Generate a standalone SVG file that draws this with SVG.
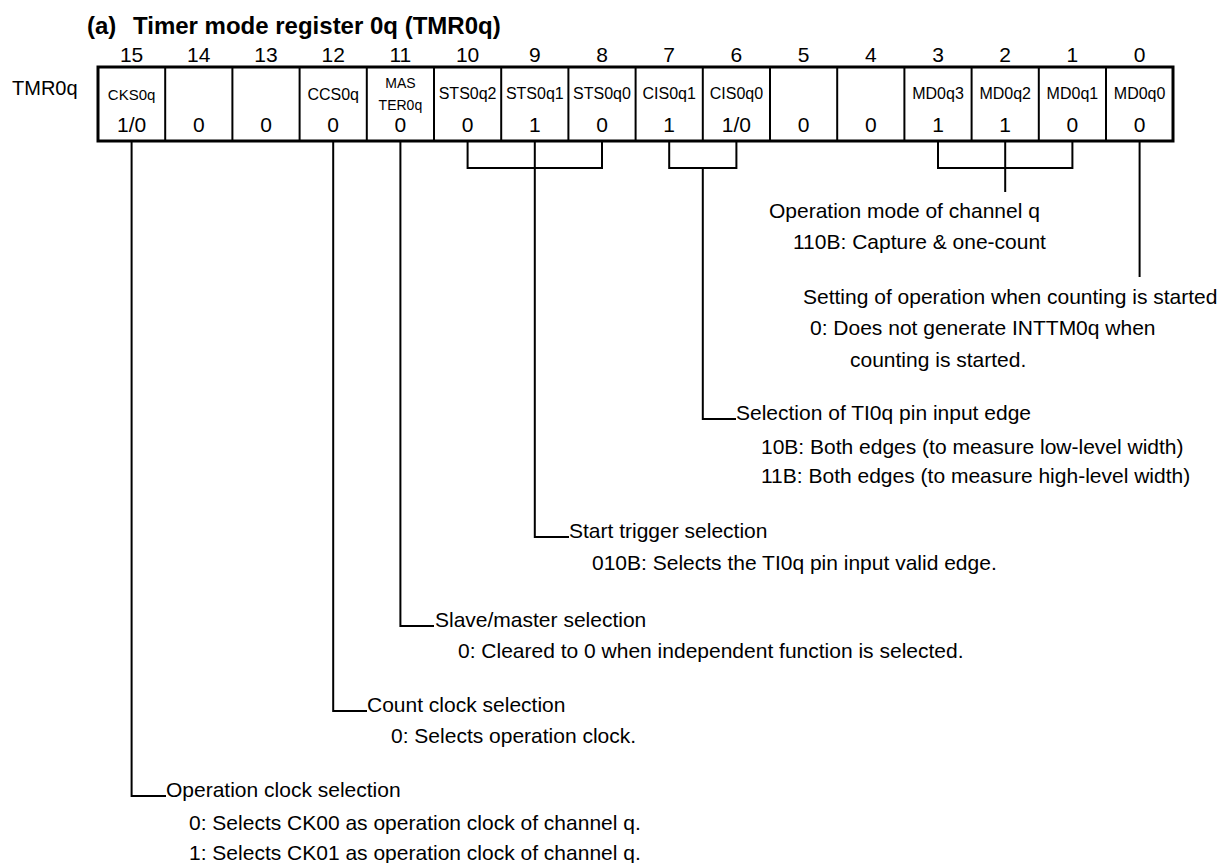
<svg xmlns="http://www.w3.org/2000/svg" width="1227" height="863" viewBox="0 0 1227 863">
<style>
text{font-family:"Liberation Sans",Arial,sans-serif;fill:#000}
.t{font-size:21px}
.bit{font-size:21px;text-anchor:middle}
.fld{font-size:16px;text-anchor:middle}
.sm{font-size:14px;text-anchor:middle}
.val{font-size:21px;text-anchor:middle}
.title{font-size:24px;font-weight:bold}
.ln{fill:none;stroke:#000;stroke-width:2}
.div{stroke:#000;stroke-width:2}
</style>
<rect width="1227" height="863" fill="#fff"/>
<text class="title" x="87" y="34">(a)<tspan x="133">Timer mode register 0q (TMR0q)</tspan></text>
<g id="bitnums">
<text class="bit" x="131.6" y="62">15</text>
<text class="bit" x="198.8" y="62">14</text>
<text class="bit" x="266" y="62">13</text>
<text class="bit" x="333.2" y="62">12</text>
<text class="bit" x="400.4" y="62">11</text>
<text class="bit" x="467.6" y="62">10</text>
<text class="bit" x="534.8" y="62">9</text>
<text class="bit" x="602" y="62">8</text>
<text class="bit" x="669.2" y="62">7</text>
<text class="bit" x="736.4" y="62">6</text>
<text class="bit" x="803.6" y="62">5</text>
<text class="bit" x="870.8" y="62">4</text>
<text class="bit" x="938" y="62">3</text>
<text class="bit" x="1005.2" y="62">2</text>
<text class="bit" x="1072.4" y="62">1</text>
<text class="bit" x="1139.6" y="62">0</text>
</g>
<g id="register">
<text x="12" y="95" style="font-size:20px">TMR0q</text>
<rect x="98" y="67" width="1075" height="74" fill="none" stroke="#000" stroke-width="3"/>
<line class="div" x1="165.2" y1="67" x2="165.2" y2="141"/>
<line class="div" x1="232.4" y1="67" x2="232.4" y2="141"/>
<line class="div" x1="299.6" y1="67" x2="299.6" y2="141"/>
<line class="div" x1="366.8" y1="67" x2="366.8" y2="141"/>
<line class="div" x1="434" y1="67" x2="434" y2="141"/>
<line class="div" x1="501.2" y1="67" x2="501.2" y2="141"/>
<line class="div" x1="568.4" y1="67" x2="568.4" y2="141"/>
<line class="div" x1="635.6" y1="67" x2="635.6" y2="141"/>
<line class="div" x1="702.8" y1="67" x2="702.8" y2="141"/>
<line class="div" x1="770" y1="67" x2="770" y2="141"/>
<line class="div" x1="837.2" y1="67" x2="837.2" y2="141"/>
<line class="div" x1="904.4" y1="67" x2="904.4" y2="141"/>
<line class="div" x1="971.6" y1="67" x2="971.6" y2="141"/>
<line class="div" x1="1038.8" y1="67" x2="1038.8" y2="141"/>
<line class="div" x1="1106" y1="67" x2="1106" y2="141"/>
<text class="fld" x="131.6" y="100" style="font-size:15px">CKS0q</text>
<text class="fld" x="333.2" y="100">CCS0q</text>
<text class="sm" x="400.4" y="88">MAS</text>
<text class="sm" x="400.4" y="110">TER0q</text>
<text class="fld" x="467.6" y="99">STS0q2</text>
<text class="fld" x="534.8" y="99">STS0q1</text>
<text class="fld" x="602" y="99">STS0q0</text>
<text class="fld" x="669.2" y="99">CIS0q1</text>
<text class="fld" x="736.4" y="99">CIS0q0</text>
<text class="fld" x="938" y="99">MD0q3</text>
<text class="fld" x="1005.2" y="99">MD0q2</text>
<text class="fld" x="1072.4" y="99">MD0q1</text>
<text class="fld" x="1139.6" y="99">MD0q0</text>
<text class="val" x="131.6" y="132">1/0</text>
<text class="val" x="198.8" y="132">0</text>
<text class="val" x="266" y="132">0</text>
<text class="val" x="333.2" y="132">0</text>
<text class="val" x="400.4" y="132">0</text>
<text class="val" x="467.6" y="132">0</text>
<text class="val" x="534.8" y="132">1</text>
<text class="val" x="602" y="132">0</text>
<text class="val" x="669.2" y="132">1</text>
<text class="val" x="736.4" y="132">1/0</text>
<text class="val" x="803.6" y="132">0</text>
<text class="val" x="870.8" y="132">0</text>
<text class="val" x="938" y="132">1</text>
<text class="val" x="1005.2" y="132">1</text>
<text class="val" x="1072.4" y="132">0</text>
<text class="val" x="1139.6" y="132">0</text>
</g>
<g id="connectors">
<path class="ln" d="M131.6 141 V796 H166"/>
<path class="ln" d="M333.2 141 V711 H367"/>
<path class="ln" d="M400.4 141 V626 H434"/>
<path class="ln" d="M467.6 141 V168 H602 V141"/>
<path class="ln" d="M534.8 141 V537 H569"/>
<path class="ln" d="M669.2 141 V168 H736.4 V141"/>
<path class="ln" d="M702.8 168 V419 H736"/>
<path class="ln" d="M938 141 V168 H1072.4 V141"/>
<path class="ln" d="M1005.2 141 V192"/>
<path class="ln" d="M1139.6 141 V277"/>
</g>
<g id="md">
<text class="t" x="769" y="218">Operation mode of channel q</text>
<text class="t" x="793" y="249">110B: Capture &amp; one-count</text>
</g>
<g id="md0">
<text class="t" x="803" y="304">Setting of operation when counting is started</text>
<text class="t" x="810" y="335">0: Does not generate INTTM0q when</text>
<text class="t" x="850" y="367">counting is started.</text>
</g>
<g id="cis">
<text class="t" x="736" y="420">Selection of TI0q pin input edge</text>
<text class="t" x="761" y="454">10B: Both edges (to measure low-level width)</text>
<text class="t" x="761" y="483">11B: Both edges (to measure high-level width)</text>
</g>
<g id="sts">
<text class="t" x="569" y="538">Start trigger selection</text>
<text class="t" x="592" y="570">010B: Selects the TI0q pin input valid edge.</text>
</g>
<g id="master">
<text class="t" x="435" y="627">Slave/master selection</text>
<text class="t" x="458" y="658">0: Cleared to 0 when independent function is selected.</text>
</g>
<g id="ccs">
<text class="t" x="367" y="712">Count clock selection</text>
<text class="t" x="391" y="743">0: Selects operation clock.</text>
</g>
<g id="cks">
<text class="t" x="166" y="797">Operation clock selection</text>
<text class="t" x="189" y="830">0: Selects CK00 as operation clock of channel q.</text>
<text class="t" x="189" y="860">1: Selects CK01 as operation clock of channel q.</text>
</g>
</svg>
